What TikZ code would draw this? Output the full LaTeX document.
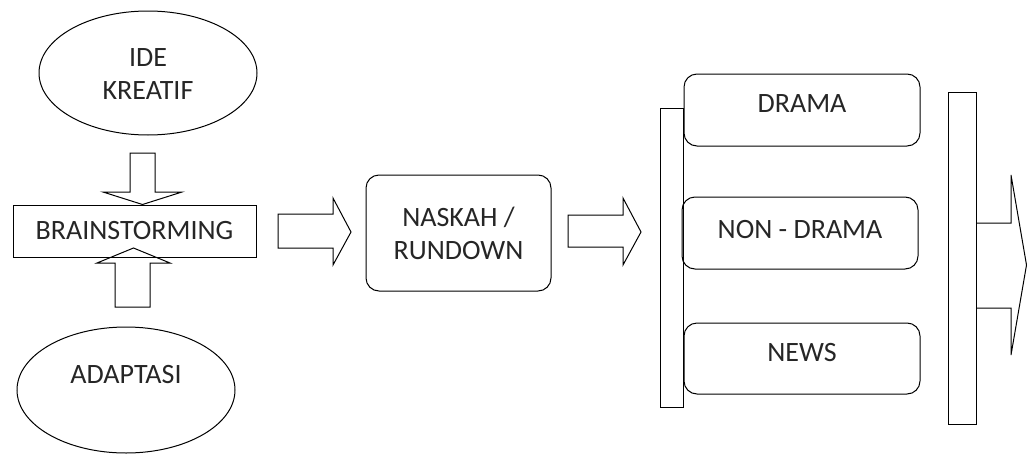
\documentclass[tikz,border=0pt]{standalone}
\usepackage{fontspec}
\setmainfont{Carlito}
\usetikzlibrary{shapes.geometric}
\begin{document}
\begin{tikzpicture}[x=1pt,y=-1pt,
  line width=1pt,
  every node/.style={font=\fontsize{28}{33}\selectfont, text=black!85, align=center, inner sep=0pt},
  oval/.style={draw, ellipse},
  plainbox/.style={draw, rectangle},
  roundbox/.style={draw, rectangle, rounded corners=13pt},
  bar/.style={draw, rectangle},
  blockarrow/.style={draw, line join=miter}]
\useasboundingbox (0,0) rectangle (1027,455);

% nodes
\node[oval, minimum width=218pt, minimum height=124pt] (ide) at (148,73) {};
\node at (148,74) {IDE\\KREATIF};
\node[plainbox, minimum width=243pt, minimum height=52pt] (brain) at (134.5,231) {};
\node at (134.5,231) {BRAINSTORMING};
\node[oval, minimum width=218pt, minimum height=126pt] (adapt) at (126,390) {};
\node at (126,375) {ADAPTASI};
\node[roundbox, minimum width=185pt, minimum height=116pt] (naskah) at (458.5,233) {};
\node at (458.5,233) {NASKAH /\\RUNDOWN};
\node[bar, minimum width=23pt, minimum height=299pt] (leftbar) at (671.5,257.5) {};
\node[roundbox, minimum width=236pt, minimum height=72pt] (drama) at (802,110) {};
\node at (802,104) {DRAMA};
\node[roundbox, minimum width=236pt, minimum height=72pt] (nondrama) at (800,233) {};
\node at (800,230) {NON - DRAMA};
\node[roundbox, minimum width=236pt, minimum height=71pt] (news) at (802,358.5) {};
\node at (802,353) {NEWS};
\node[bar, minimum width=28pt, minimum height=332pt] (rightbar) at (962,258) {};

% block arrows
% IDE KREATIF -> BRAINSTORMING
\draw[blockarrow] (130,153) -- (155,153) -- (155,192) -- (182,192) -- (brain.north -| 142.5,0) -- (103,192) -- (130,192) -- cycle;
% ADAPTASI -> BRAINSTORMING
\draw[blockarrow] (115,307) -- (150,307) -- (150,263) -- (170,263) -- (133.5,248) -- (97,263) -- (115,263) -- cycle;
% BRAINSTORMING -> NASKAH
\draw[blockarrow] (278,214) -- (333,214) -- (333,198) -- (351,232) -- (333,265) -- (333,248) -- (278,248) -- cycle;
% NASKAH -> categories
\draw[blockarrow] (568,215) -- (623,215) -- (623,198) -- (641,232) -- (623,265) -- (623,247) -- (568,247) -- cycle;
% categories -> out
\draw[blockarrow] (rightbar.east |- 0,223) -- (1011,223) -- (1011,175) -- (1026.5,265) -- (1011,355) -- (1011,308) -- (rightbar.east |- 0,308);
\end{tikzpicture}
\end{document}
